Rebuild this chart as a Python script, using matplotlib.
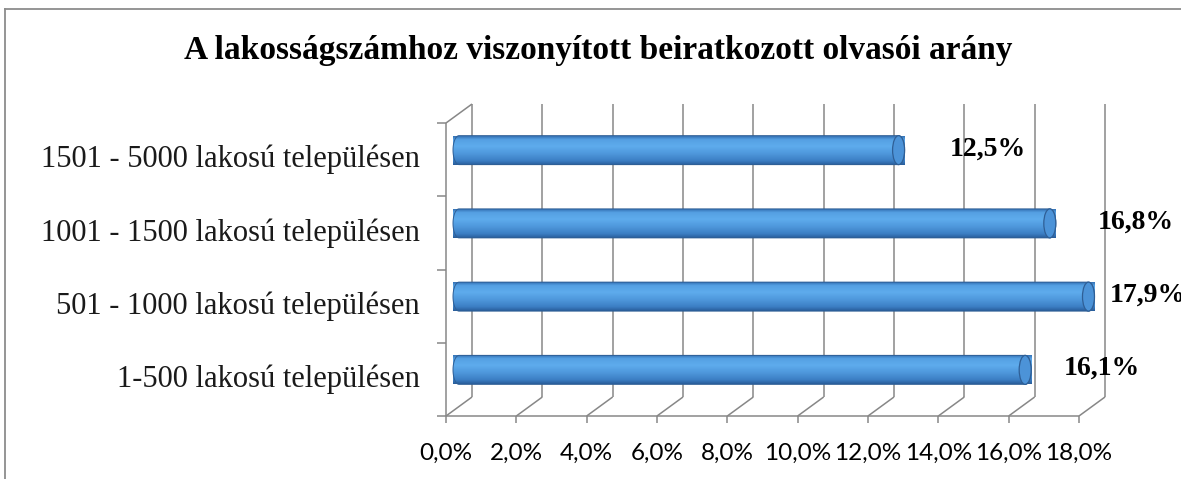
import matplotlib

matplotlib.use("Agg")
import matplotlib.pyplot as plt
import numpy as np
from matplotlib.colors import LinearSegmentedColormap
from matplotlib.lines import Line2D
from matplotlib.patches import Ellipse, Polygon
from matplotlib.transforms import ScaledTranslation

# data, bottom category first
categories = ["1-500 lakosú településen", "501 - 1000 lakosú településen",
              "1001 - 1500 lakosú településen", "1501 - 5000 lakosú településen"]
values = [16.1, 17.9, 16.8, 12.5]
xticks = [0, 2, 4, 6, 8, 10, 12, 14, 16, 18]
title = "A lakosságszámhoz viszonyított beiratkozott olvasói arány"

W, H, DPI = 1181, 479, 100
SERIF = "Liberation Serif"
GRID = "#878787"

fig = plt.figure(figsize=(W / DPI, H / DPI), dpi=DPI)
# front plane of the 3-D box, in pixels
x0, x1, ytop, ybot = 446, 1079, 123, 416
ax = fig.add_axes([x0 / W, (H - ybot) / H, (x1 - x0) / W, (ybot - ytop) / H])
ax.set_xlim(0, 18)
ax.set_ylim(-0.5, len(categories) - 0.5)
ax.set_axis_off()

# depth offset (back wall) and mid-depth for the cylinders
DX, DY = 26, 19
back = ax.transData + ScaledTranslation(DX / DPI, DY / DPI, fig.dpi_scale_trans)
mid = ax.transData + ScaledTranslation(DX / 2 / DPI, DY / 2 / DPI, fig.dpi_scale_trans)

lo, hi = -0.5, len(categories) - 0.5
gl = dict(color=GRID, lw=1.1, clip_on=False, solid_capstyle="butt")

# back wall gridlines + floor diagonals
for t in xticks:
    ax.plot([t, t], [lo, hi], transform=back, **gl)
    p0 = ax.transData.transform((t, lo))
    p1 = back.transform((t, lo))
    fig.add_artist(Line2D([p0[0] / W, p1[0] / W], [p0[1] / H, p1[1] / H], **gl))
    # small tick below the front floor edge
    fig.add_artist(Line2D([p0[0] / W] * 2, [p0[1] / H, (p0[1] - 7) / H], **gl))

# front floor edge, left axis, top-left diagonal
ax.plot([0, 18], [lo, lo], **gl)
ax.plot([0, 0], [lo, hi], **gl)
p0 = ax.transData.transform((0, hi))
p1 = back.transform((0, hi))
fig.add_artist(Line2D([p0[0] / W, p1[0] / W], [p0[1] / H, p1[1] / H], **gl))
for b in np.arange(lo, hi + 0.01, 1.0):
    p = ax.transData.transform((0, b))
    fig.add_artist(Line2D([(p[0] - 9) / W, p[0] / W], [p[1] / H] * 2, **gl))

# cylinder bars
cyl = LinearSegmentedColormap.from_list("cyl", [
    (0.0, "#3471b4"), (0.12, "#55a0e3"), (0.35, "#5eaced"),
    (0.6, "#4f98dc"), (0.85, "#3c7fc4"), (1.0, "#285c99")])
px_per_x = (x1 - x0) / 18
px_per_y = (ybot - ytop) / len(categories)
rx = 6 / px_per_x
hh = 14.5 / px_per_y
th = np.linspace(-np.pi / 2, np.pi / 2, 40)
grad = np.linspace(0, 1, 256).reshape(-1, 1)

for i, v in enumerate(values):
    right = np.column_stack([v + rx * np.cos(th[::-1]), i + hh * np.sin(th[::-1])])
    left = np.column_stack([-rx * np.cos(th), i + hh * np.sin(th)])
    body = Polygon(np.vstack([right, left]), closed=True, transform=mid,
                   facecolor="none", edgecolor="#2f5f96", lw=0.7, zorder=4, clip_on=False)
    ax.add_patch(body)
    im = ax.imshow(grad, cmap=cyl, extent=(-rx, v + rx, i - hh, i + hh), origin="upper",
                   aspect="auto", transform=mid, zorder=3, clip_on=False)
    im.set_clip_path(body)
    ax.add_patch(Ellipse((v, i), 2 * rx, 2 * hh, transform=mid, facecolor="#4c93d8",
                         edgecolor="#2f5f96", lw=0.9, zorder=5, clip_on=False))

ax.set_xlim(0, 18)
ax.set_ylim(lo, hi)

# value labels (Excel's 3-D placement nudges, px right of the cylinder end)
nudge = [39, 21, 48, 51]
for i, v in enumerate(values):
    ax.annotate(f"{v:.1f}".replace(".", ",") + "%", xy=(v, i), xycoords=mid,
                xytext=(nudge[i] * 0.72, 1), textcoords="offset points",
                ha="left", va="center", fontsize=20, fontweight="bold",
                family=SERIF, color="black", annotation_clip=False)

# category labels
for i, c in enumerate(categories):
    ax.annotate(c, xy=(0, i), xycoords="data", xytext=(-26 * 0.72, 0),
                textcoords="offset points", ha="right", va="center",
                fontsize=22, family=SERIF, color="#1a1a1a", annotation_clip=False)

# value axis labels
for t in xticks:
    ax.annotate(f"{t:.1f}".replace(".", ",") + "%", xy=(t, lo), xycoords="data",
                xytext=(0, -37 * 0.72), textcoords="offset points", ha="center",
                va="center", fontsize=17.5, family="Lato", color="black",
                annotation_clip=False)

fig.text(598 / W, 1 - 50 / H, title, ha="center", va="center", fontsize=24,
         fontweight="bold", family=SERIF, color="black")

# chart border (only top and left edge fall inside the crop)
bd = dict(color="#8c8c8c", lw=1.3)
fig.add_artist(Line2D([4.5 / W, 4.5 / W], [0, 1 - 9 / H], **bd))
fig.add_artist(Line2D([4.5 / W, 1], [1 - 9 / H, 1 - 9 / H], **bd))

fig.savefig("out.png", dpi=DPI)
